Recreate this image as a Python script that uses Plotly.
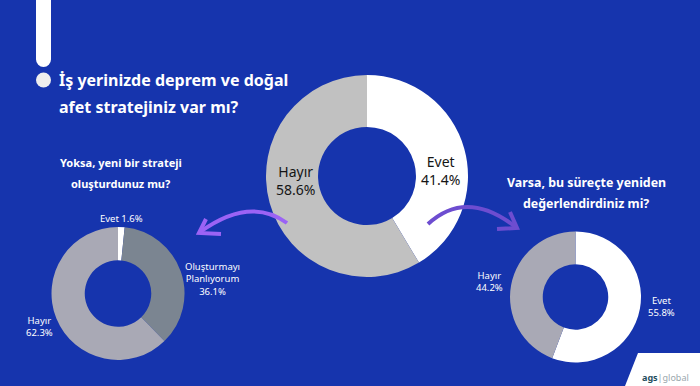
import plotly.graph_objects as go

# ---- data ----
main_labels = ["Evet", "Hayır"]
main_values = [41.4, 58.6]
left_labels = ["Evet", "Oluşturmayı<br>Planlıyorum", "Hayır"]
left_values = [1.6, 36.1, 62.3]
right_labels = ["Evet", "Hayır"]
right_values = [55.8, 44.2]

main_title = ["İş yerinizde deprem ve doğal", "afet stratejiniz var mı?"]
left_title = ["Yoksa, yeni bir strateji", "oluşturdunuz mu?"]
right_title = ["Varsa, bu süreçte yeniden", "değerlendirdiniz mi?"]

# ---- styles ----
W, H = 700, 386
BG = "#1634AD"
FONT = "Noto Sans"
main_colors = ["#FFFFFF", "#C1C1C1"]
left_colors = ["#FFFFFF", "#7B8591", "#A9A9B5"]
right_colors = ["#FFFFFF", "#A9A9B5"]

# label anchor positions (pixels) and separators between label and value
main_label_pos = [(440, 170), (295, 180)]
left_label_pos = [(121, 218), (212, 279), (39, 326)]
left_label_sep = [" ", "<br>", "<br>"]
right_label_pos = [(661, 306), (489, 281)]


def dom(cx, cy, r):
    return dict(x=[(cx - r) / W, (cx + r) / W], y=[1 - (cy + r) / H, 1 - (cy - r) / H])


fig = go.Figure()

for labels, values, colors, hole, d in [
    (main_labels, main_values, main_colors, 0.485, dom(367, 176, 101)),
    (left_labels, left_values, left_colors, 0.5, dom(118, 293.5, 66.5)),
    (right_labels, right_values, right_colors, 0.5, dom(575.5, 297, 65.5)),
]:
    fig.add_trace(go.Pie(
        labels=labels, values=values, hole=hole, sort=False,
        direction="clockwise", rotation=0,
        marker=dict(colors=colors, line=dict(width=0)),
        textinfo="none", hoverinfo="label+percent", showlegend=False, domain=d,
    ))

annotations = []
for lab, val, (x, y) in zip(main_labels, main_values, main_label_pos):
    annotations.append(dict(x=x, y=y, xref="x", yref="y", text=f"{lab}<br>{val:.1f}%",
                            showarrow=False, font=dict(family=FONT, size=14, color="#151515")))
for lab, val, sep, (x, y) in zip(left_labels, left_values, left_label_sep, left_label_pos):
    annotations.append(dict(x=x, y=y, xref="x", yref="y", text=f"{lab}{sep}{val:.1f}%",
                            showarrow=False, font=dict(family=FONT, size=9.5, color="white")))
for lab, val, (x, y) in zip(right_labels, right_values, right_label_pos):
    annotations.append(dict(x=x, y=y, xref="x", yref="y", text=f"{lab}<br>{val:.1f}%",
                            showarrow=False, font=dict(family=FONT, size=9.5, color="white")))

# titles
for i, line in enumerate(main_title):
    annotations.append(dict(x=57, y=80 + i * 27, xref="x", yref="y", text=f"<b>{line}</b>",
                            xanchor="left", showarrow=False, font=dict(family=FONT, size=16, color="white")))
for i, line in enumerate(left_title):
    annotations.append(dict(x=121, y=162 + i * 21, xref="x", yref="y", text=f"<b>{line}</b>",
                            showarrow=False, font=dict(family=FONT, size=11, color="white")))
for i, line in enumerate(right_title):
    annotations.append(dict(x=586, y=182 + i * 21, xref="x", yref="y", text=f"<b>{line}</b>",
                            showarrow=False, font=dict(family=FONT, size=12.4, color="white")))

# logo
annotations.append(dict(x=665, y=377, xref="x", yref="y",
                        text="<b>ags</b><span style='color:#9aa7ad'>|global</span>",
                        showarrow=False, font=dict(family=FONT, size=9, color="#1E4D5C")))

shapes = [
    dict(type="rect", x0=36, x1=51, y0=-5, y1=59, fillcolor="white", line=dict(width=0)),
    dict(type="circle", x0=36, x1=51, y0=52, y1=67, fillcolor="white", line=dict(width=0)),
    dict(type="circle", x0=36, x1=51, y0=72.5, y1=87.5, fillcolor="#EEEEEE", line=dict(width=0)),
    dict(type="path", path="M 638 353 L 700 353 L 700 386 L 625 386 Z",
         fillcolor="white", line=dict(width=0)),
    dict(type="path", path="M 287 223 Q 250 196 200 232", line=dict(color="#9B63F5", width=4)),
    dict(type="path", path="M 206 219 L 199 233 L 221 234", line=dict(color="#9B63F5", width=4)),
    dict(type="path", path="M 428 224 Q 467 188 517 228", line=dict(color="#6D4DD0", width=4)),
    dict(type="path", path="M 510 212 L 517 228 L 497 229", line=dict(color="#6D4DD0", width=4)),
]

fig.update_layout(
    width=W, height=H, margin=dict(l=0, r=0, t=0, b=0),
    paper_bgcolor=BG, plot_bgcolor=BG,
    xaxis=dict(range=[0, W], visible=False, fixedrange=True),
    yaxis=dict(range=[H, 0], visible=False, fixedrange=True),
    annotations=annotations, shapes=shapes, showlegend=False,
)

fig.write_html("out.html", config={"displayModeBar": False},
               post_script="document.body.style.margin='0px';")
